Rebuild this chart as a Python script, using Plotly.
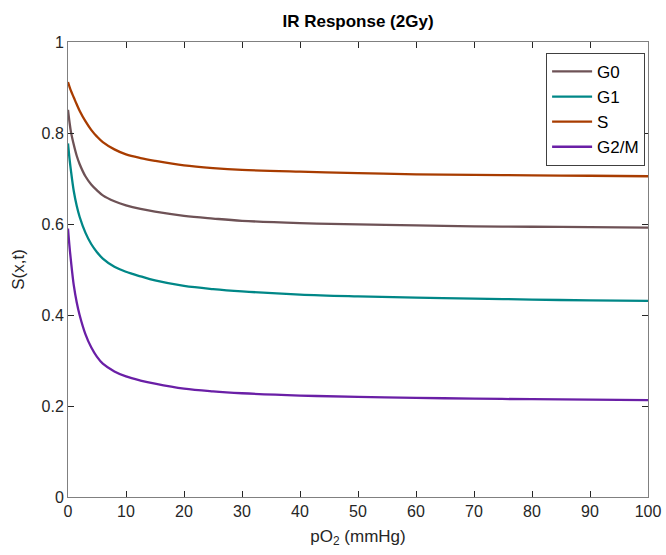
import plotly.graph_objects as go

po2 = [0, 0.25, 0.5, 1, 1.5, 2, 3, 4, 5, 6, 8, 10, 12.5, 15, 20, 25, 30, 40, 50, 60, 70, 80, 90, 100]
g0 = [0.851, 0.825, 0.803, 0.774, 0.750, 0.732, 0.705, 0.687, 0.674, 0.663, 0.650, 0.641, 0.633, 0.627,
      0.618, 0.612, 0.607, 0.602, 0.599, 0.597, 0.595, 0.594, 0.593, 0.592]
g1 = [0.777, 0.745, 0.718, 0.672, 0.640, 0.616, 0.581, 0.556, 0.538, 0.524, 0.506, 0.495, 0.485, 0.476,
      0.464, 0.457, 0.452, 0.445, 0.441, 0.438, 0.436, 0.434, 0.432, 0.431]
s_phase = [0.912, 0.902, 0.893, 0.878, 0.863, 0.849, 0.826, 0.807, 0.792, 0.780, 0.764, 0.753, 0.745, 0.739,
           0.729, 0.723, 0.719, 0.715, 0.712, 0.709, 0.708, 0.707, 0.706, 0.705]
g2m = [0.590, 0.552, 0.520, 0.465, 0.428, 0.400, 0.358, 0.329, 0.308, 0.293, 0.276, 0.265, 0.256, 0.249,
       0.238, 0.232, 0.228, 0.223, 0.220, 0.218, 0.216, 0.215, 0.214, 0.213]

series = [("G0", g0, "#6E5256"), ("G1", g1, "#008787"), ("S", s_phase, "#A83C00"), ("G2/M", g2m, "#6A1FA6")]

fig = go.Figure()
for name, vals, col in series:
    fig.add_trace(go.Scatter(x=po2, y=vals, mode="lines", name=name,
                             line=dict(color=col, width=2.3, shape="spline", smoothing=1.0)))

font = "Liberation Sans, Arial, sans-serif"
axis_common = dict(showline=True, linecolor="#808080", linewidth=1, mirror="ticks",
                   ticks="inside", ticklen=6, tickcolor="#262626", showgrid=False, zeroline=False,
                   automargin=False,
                   tickfont=dict(size=16, color="#262626", family=font))
fig.update_layout(
    width=666, height=555,
    margin=dict(l=68, r=18, t=42, b=58),
    paper_bgcolor="white", plot_bgcolor="white",
    title=dict(text="<b>IR Response (2Gy)</b>", x=(68 + 648) / 2 / 666, xanchor="center",
               y=1 - 21 / 555, yanchor="middle", font=dict(size=17, color="black", family=font)),
    xaxis=dict(range=[0, 100], tickvals=list(range(0, 101, 10)), **axis_common,
               title=dict(text="pO<sub>2</sub> (mmHg)", font=dict(size=17, color="#262626", family=font), standoff=10)),
    yaxis=dict(range=[0, 1], tickvals=[0, 0.2, 0.4, 0.6, 0.8, 1], ticktext=["0", "0.2", "0.4", "0.6", "0.8", "1"],
               **axis_common,
               title=dict(text="S(x,t)", font=dict(size=17, color="#262626", family=font), standoff=12)),
    legend=dict(x=0.995, y=0.976, xanchor="right", yanchor="top", bgcolor="white",
                bordercolor="#404040", borderwidth=1, font=dict(size=17, color="black", family=font),
                tracegroupgap=0, itemwidth=40),
    showlegend=True,
)
fig.write_html("out.html")
